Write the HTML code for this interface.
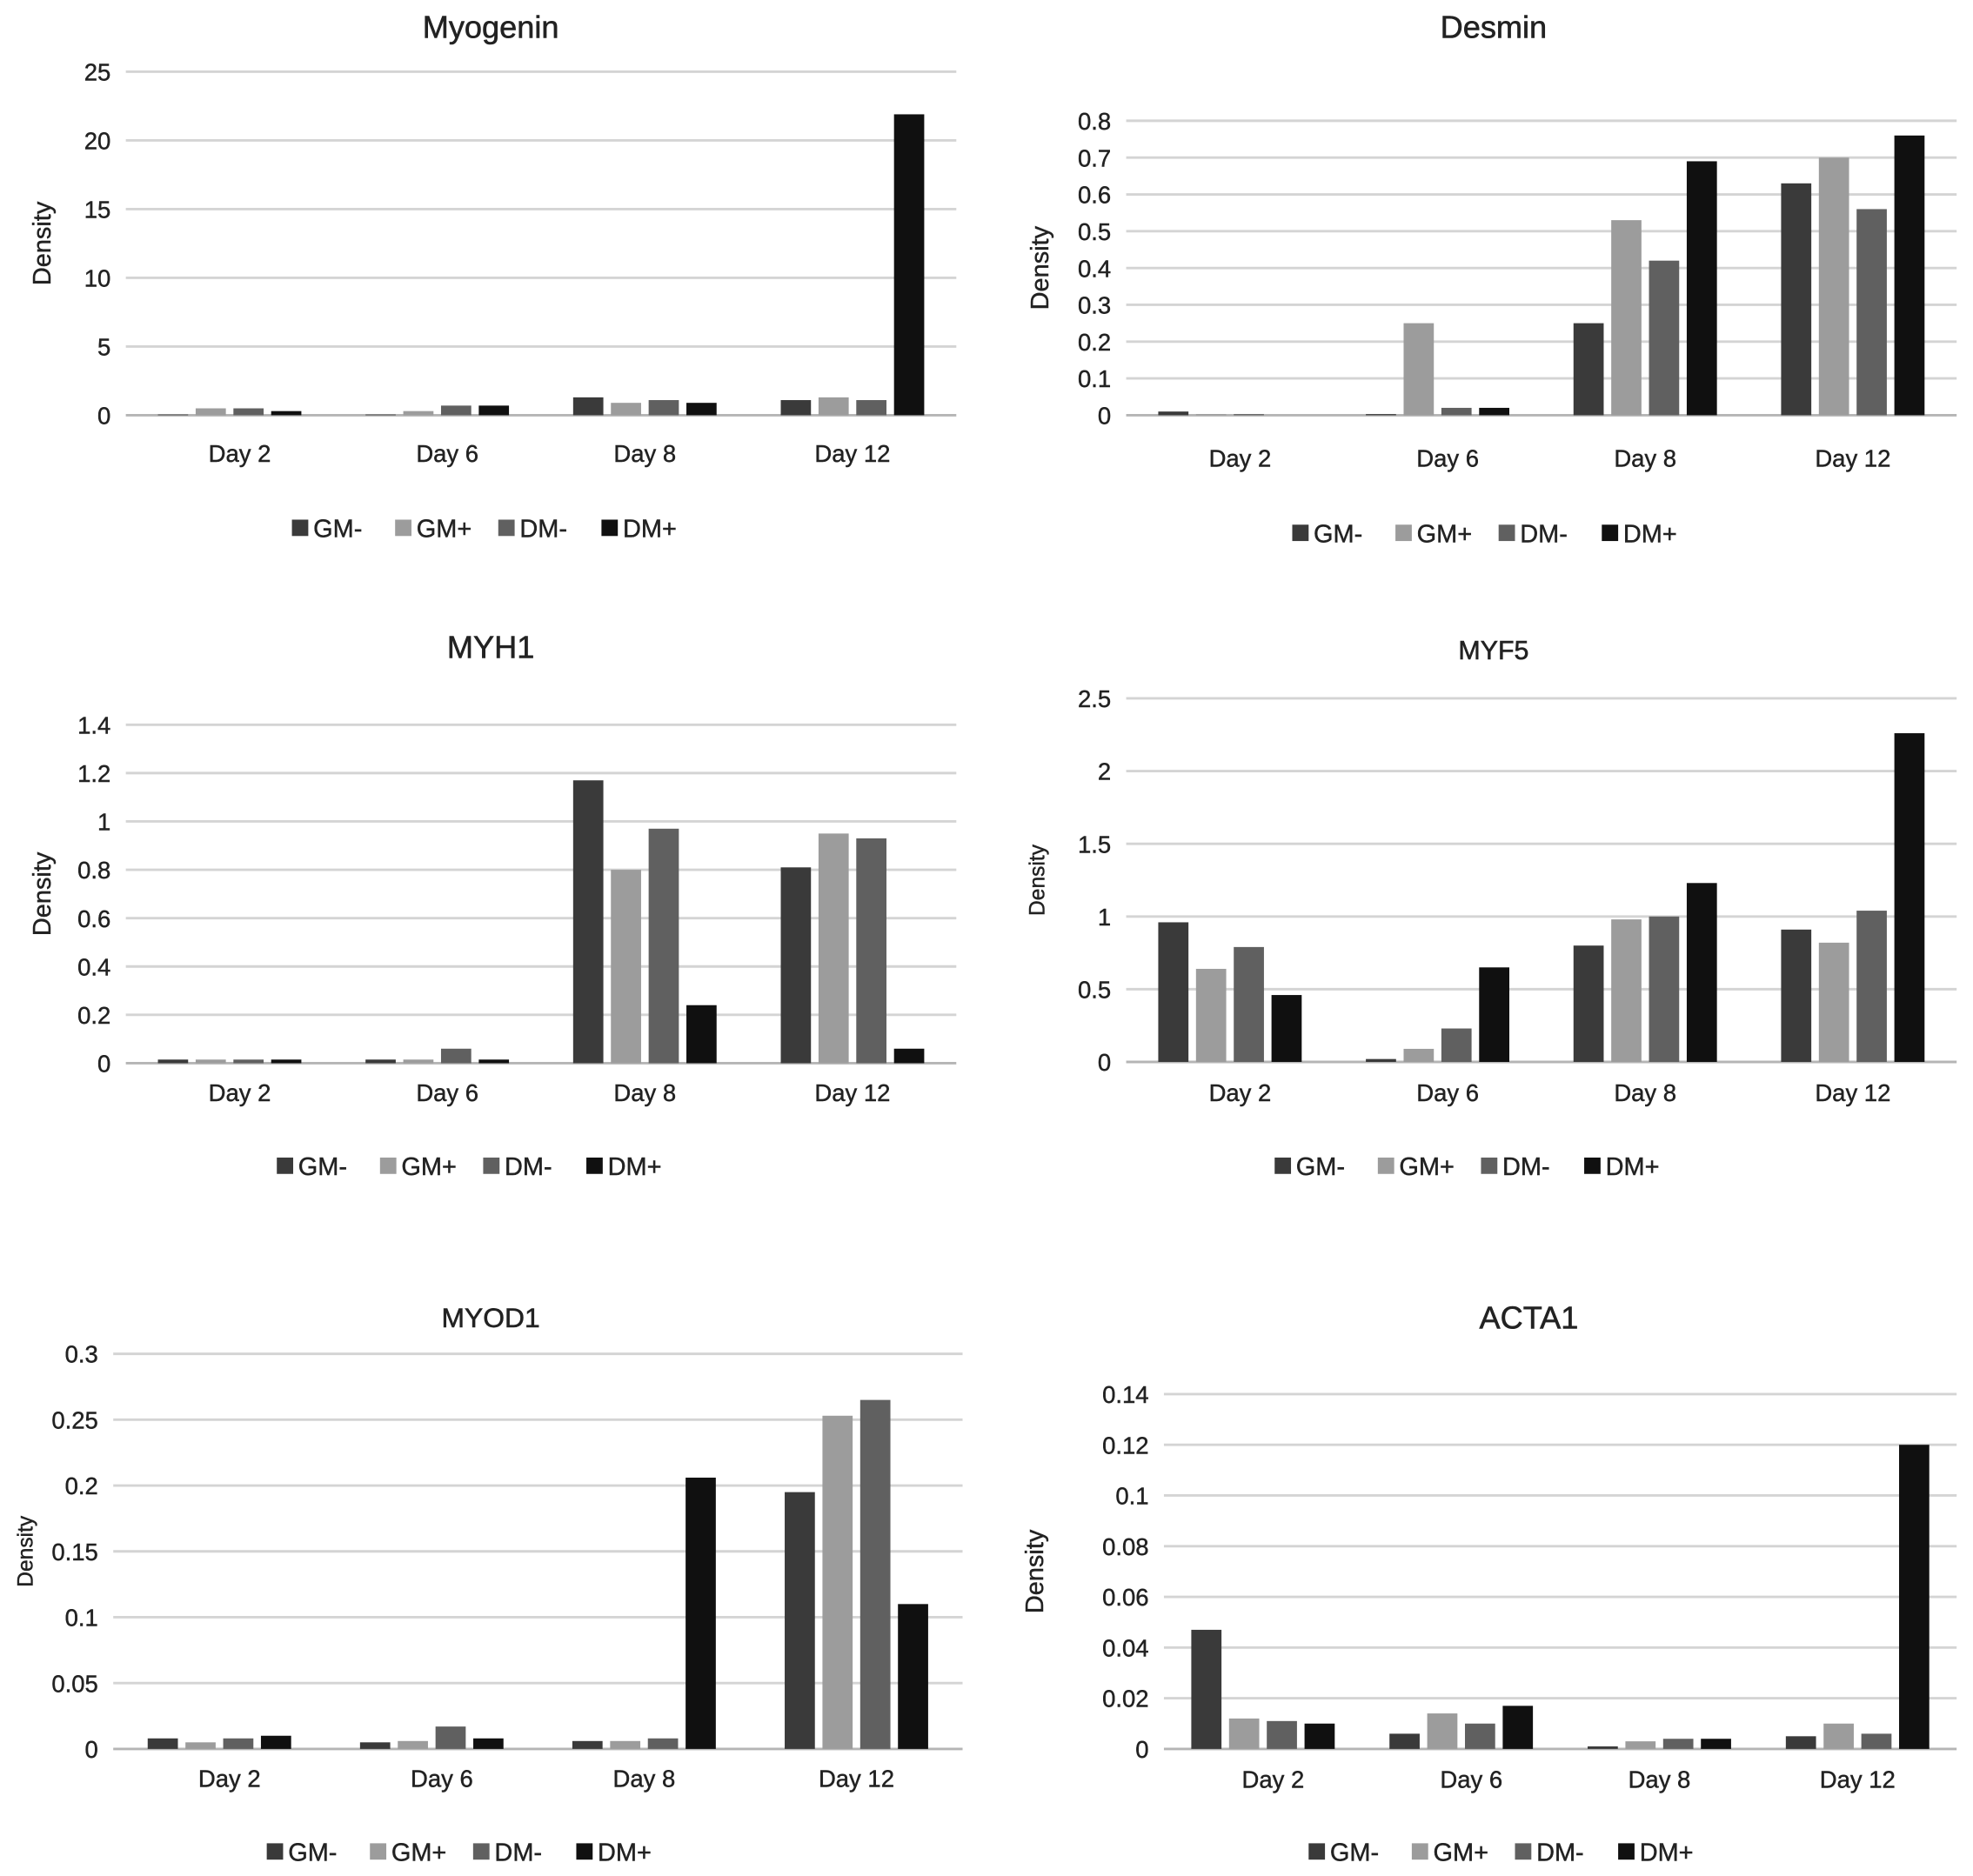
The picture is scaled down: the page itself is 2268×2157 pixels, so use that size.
<!DOCTYPE html>
<html><head><meta charset="utf-8"><style>
html,body{margin:0;padding:0;background:#fff;}
svg{display:block;font-family:"Liberation Sans",sans-serif;}
</style></head><body>
<svg id="fig" width="2268" height="2157" viewBox="0 0 1568 1491" preserveAspectRatio="none" xmlns="http://www.w3.org/2000/svg"></svg>
<script>
const categories = ["Day 2","Day 6","Day 8","Day 12"];
const seriesNames = ["GM-","GM+","DM-","DM+"];
const seriesColors = ["#3a3a3a","#9c9c9c","#606060","#101010"];

const myogeninValues = [[0.05,0.05,1.3,1.1],[0.5,0.3,0.9,1.3],[0.5,0.7,1.1,1.1],[0.3,0.7,0.9,21.9]];
const myogeninTicks = ["0","5","10","15","20","25"];
const desminValues = [[0.01,0.003,0.25,0.63],[0.003,0.25,0.53,0.70],[0.003,0.02,0.42,0.56],[0,0.02,0.69,0.76]];
const desminTicks = ["0","0.1","0.2","0.3","0.4","0.5","0.6","0.7","0.8"];
const myh1Values = [[0.015,0.015,1.17,0.81],[0.015,0.015,0.80,0.95],[0.015,0.06,0.97,0.93],[0.015,0.015,0.24,0.06]];
const myh1Ticks = ["0","0.2","0.4","0.6","0.8","1","1.2","1.4"];
const myf5Values = [[0.96,0.02,0.80,0.91],[0.64,0.09,0.98,0.82],[0.79,0.23,1.00,1.04],[0.46,0.65,1.23,2.26]];
const myf5Ticks = ["0","0.5","1","1.5","2","2.5"];
const myod1Values = [[0.008,0.005,0.006,0.195],[0.005,0.006,0.006,0.253],[0.008,0.017,0.008,0.265],[0.010,0.008,0.206,0.110]];
const myod1Ticks = ["0","0.05","0.1","0.15","0.2","0.25","0.3"];
const acta1Values = [[0.047,0.006,0.001,0.005],[0.012,0.014,0.003,0.010],[0.011,0.010,0.004,0.006],[0.010,0.017,0.004,0.120]];
const acta1Ticks = ["0","0.02","0.04","0.06","0.08","0.1","0.12","0.14"];

const NS="http://www.w3.org/2000/svg";
const svg=document.getElementById('fig');
function mk(tag,attrs,parent){const e=document.createElementNS(NS,tag);for(const k in attrs)e.setAttribute(k,attrs[k]);(parent||svg).appendChild(e);return e;}

function chart(cfg,values,ticks){
  const g=mk('g',{});
  
  
  const max=parseFloat(ticks[ticks.length-1]);
  const yS=v=>cfg.y0-(v/max)*(cfg.y0-cfg.yTop);
  const cw=(cfg.x1-cfg.x0)/categories.length;
  const xC=i=>cfg.x0+cw*(i+0.5);
  const t=mk('text',{x:cfg.tx,y:cfg.ty,'text-anchor':'middle','font-size':cfg.tfs||25,fill:'#222','stroke':'#222','stroke-width':0.4},g);
  t.textContent=cfg.title;
  
  
  ticks.forEach(tk=>{
    const v=parseFloat(tk),y=yS(v);
    const l=mk('line',{x1:cfg.x0,x2:cfg.x1,y1:y,y2:y,stroke:v===0?'#b5b5b5':'#d4d4d4','stroke-width':2},g);
    
    
    const tl=mk('text',{x:cfg.x0-12,y:y+7,'text-anchor':'end','font-size':cfg.fs||19,fill:'#222','stroke':'#222','stroke-width':0.3},g);
    tl.textContent=tk;
    
    
  });
  const yl=mk('text',{x:0,y:0,'text-anchor':'middle','font-size':cfg.yfs||20,fill:'#222','stroke':'#222','stroke-width':0.3,transform:`translate(${cfg.ylx},${(cfg.y0+cfg.yTop)/2}) rotate(-90)`},g);
  yl.textContent='Density';
  
  
  const bw=24,step=30;
  categories.forEach((c,i)=>{
    const cl=mk('text',{x:xC(i)+(i<2?8:0),y:cfg.y0+(cfg.lo||31),'text-anchor':'middle','font-size':cfg.fs||19,fill:'#222','stroke':'#222','stroke-width':0.3},g);
    cl.textContent=c;
    
    
    values.forEach((s,si)=>{
      const v=s[i];
      const x=xC(i)-1.5*step+si*step-bw/2;
      const y=yS(v);
      const r=mk('rect',{x:x,y:y,width:bw,height:Math.max(0,cfg.y0-y),fill:seriesColors[si]},g);
      
      
    });
  });
  const lx=cfg.lx-160;
  seriesNames.forEach((n,si)=>{
    const x=lx+si*82;
    const sw=mk('rect',{x:x,y:cfg.ly-14,width:13,height:13,fill:seriesColors[si]},g);
    
    
    const lt=mk('text',{x:x+17,y:cfg.ly,'font-size':20,fill:'#222','stroke':'#222','stroke-width':0.3},g);
    lt.textContent=n;
    
    
  });
}
chart({name:'myogenin',title:'Myogenin',tx:390,ty:30,x0:100,x1:760,y0:330,yTop:57,ylx:40,lx:392,ly:427,lo:37},myogeninValues,myogeninTicks);
chart({name:'desmin',title:'Desmin',tx:1187,ty:30,x0:895,x1:1555,y0:330,yTop:96,ylx:833,lx:1187,ly:431,lo:41},desminValues,desminTicks);
chart({name:'myh1',title:'MYH1',tx:390,ty:523,x0:100,x1:760,y0:845,yTop:576,ylx:40,lx:380,ly:934,lo:30},myh1Values,myh1Ticks);
chart({name:'myf5',title:'MYF5',tx:1187,ty:524,tfs:21,x0:895,x1:1555,y0:844,yTop:555,ylx:830,yfs:17,lx:1173,ly:934,lo:31},myf5Values,myf5Ticks);
chart({name:'myod1',title:'MYOD1',tx:390,ty:1055,tfs:22,x0:90,x1:765,y0:1390,yTop:1076,ylx:26,yfs:17,lx:372,ly:1479,lo:30},myod1Values,myod1Ticks);
chart({name:'acta1',title:'ACTA1',tx:1215,ty:1056,x0:925,x1:1555,y0:1390,yTop:1108,ylx:829,lx:1200,ly:1479,lo:31},acta1Values,acta1Ticks);
</script>
</body></html>
